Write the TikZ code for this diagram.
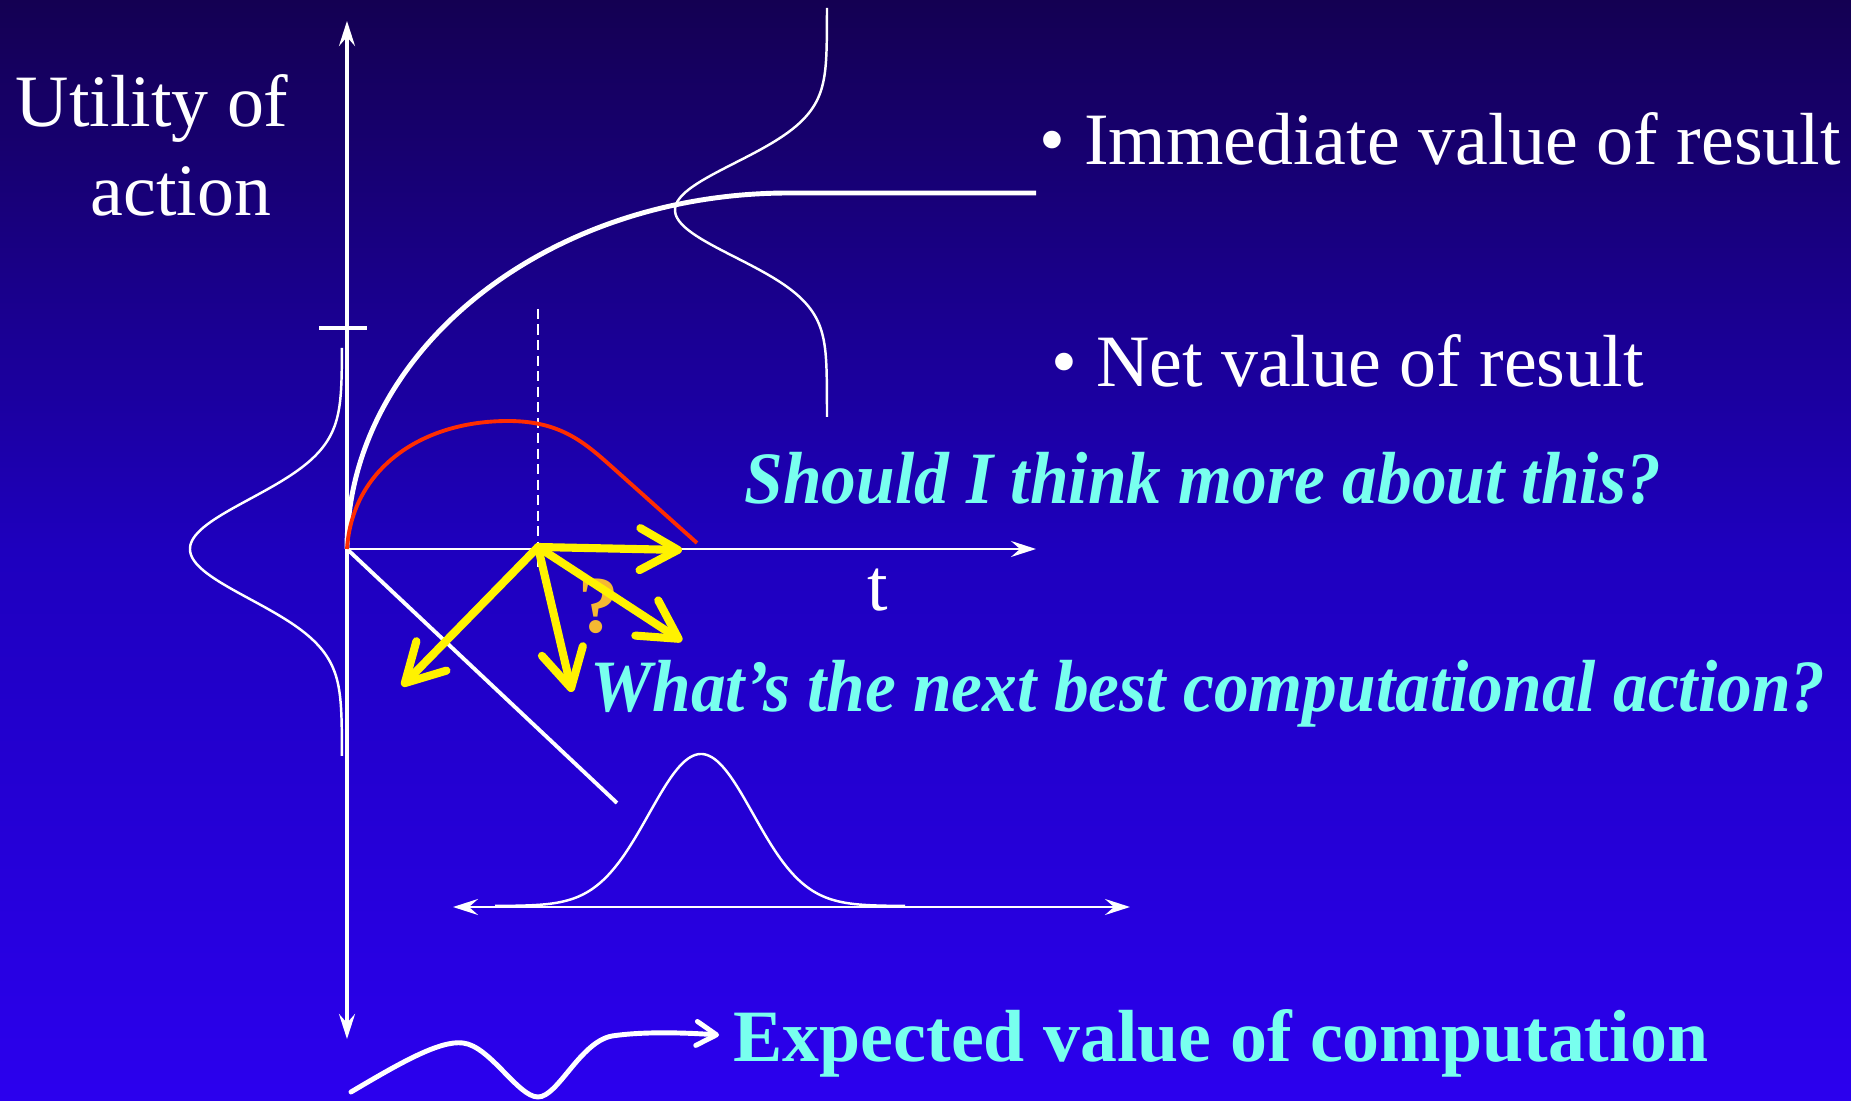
\documentclass[tikz,border=0pt]{standalone}
\usepackage{xcolor}
\usepackage{fontspec}
\setmainfont{Liberation Serif}
\newfontfamily\narrowserif[FakeStretch=0.94]{Liberation Serif}
\usepackage{tikz}
\usetikzlibrary{arrows.meta}
\definecolor{bgTop}{RGB}{20,0,82}
\definecolor{bgMid}{RGB}{30,0,190}
\definecolor{bgBottom}{RGB}{43,0,238}
\definecolor{myCyan}{RGB}{120,255,238}
\definecolor{myRed}{RGB}{255,45,0}
\definecolor{myOrange}{RGB}{245,185,50}

\begin{document}
\begin{tikzpicture}[x=0.01cm, y=-0.01cm]
\tikzset{
    axis line/.style={
        draw=white, line width=0.9pt,
        >={Stealth[length=0.25cm, width=0.16cm, inset=0.09cm]}
    },
    bell/.style={
        draw=white, line width=0.7pt, line join=round
    },
    choice arrow/.style={
        draw=yellow, line width=2.3pt, line cap=round, line join=round,
        -{Straight Barb[length=0.38cm, width=0.42cm, round]}
    },
    slide text/.style={
        text=white, inner sep=0pt, anchor=base west,
        font=\fontsize{21}{25}\selectfont
    },
    question text/.style={
        slide text, text=myCyan,
        font=\narrowserif\fontsize{21}{25}\selectfont\bfseries\itshape
    }
}
% Fundal
\shade[top color=bgTop, bottom color=bgBottom, middle color=bgMid]
    (0,0) rectangle (1851,1101);
\useasboundingbox (0,0) rectangle (1851,1101);

% Puncte
\coordinate (origin) at (347,549);
\coordinate (now)    at (538,547);
\coordinate (goRight) at (682,550);
\coordinate (goBack)  at (402,686);
\coordinate (goDown)  at (572,692);
\coordinate (goDiag)  at (682,641);

% Axe
\draw[axis line, <->] (347,1039) -- (347,21);
\draw[axis line] (319,328) -- (367,328);
\draw[axis line, ->, line width=0.7pt] (origin) -- (1036,549);
\draw[axis line, <->, line width=0.7pt] (453,907) -- (1130,907);

% Distributii
\draw[bell] plot[domain=348:756, samples=90, smooth]
    ({342-152*exp(-((\x-549)/50)*((\x-549)/50)/2)}, \x);
\draw[bell] plot[domain=8:417, samples=90, smooth]
    ({827-152*exp(-((\x-210)/47)*((\x-210)/47)/2)}, \x);
\draw[bell] plot[domain=495:905, samples=90, smooth]
    (\x, {906-152*exp(-((\x-701)/52)*((\x-701)/52)/2)});

% Curbe
\draw[white, line width=1.1pt] (origin) -- (617,803);
\draw[white, line width=0.6pt, dash pattern=on 0.1cm off 0.055cm] (538,309) -- (538,572);
\draw[white, line width=1.4pt] (origin) .. controls (347,352) and (545,193) .. (789,193) -- (1036,193);
\draw[myRed, line width=1.1pt] (origin) .. controls (352,470) and (420,421) .. (508,421)
    .. controls (560,421) and (584,442) .. (612,467) -- (697,543);

% Sageti galbene
\node[slide text, anchor=base, text=myOrange, font=\fontsize{23}{25}\selectfont\bfseries] (qmark) at (599,633) {?};
\draw[choice arrow] (now) -- (goRight);
\draw[choice arrow] (now) -- (goBack);
\draw[choice arrow] (now) -- (goDown);
\draw[choice arrow] (now) -- (goDiag);

% Sageata ondulata
\coordinate (waveStart) at (351,1092);
\coordinate (waveEnd)   at (719,1035);
\draw[white, line width=1.4pt, line cap=round, -{Straight Barb[length=0.2cm, width=0.24cm, round]}]
    (waveStart) .. controls (400,1063) and (440,1040) .. (463,1043)
    .. controls (490,1046) and (518,1097) .. (538,1097)
    .. controls (558,1097) and (580,1042) .. (612,1036)
    .. controls (645,1031) and (690,1033) .. (waveEnd);

% Texte
\node[slide text] (utility)   at (15,127)   {Utility of};
\node[slide text] (action)    at (90,216)   {action};
\node[slide text] (immediate) at (1039,165) {• Immediate value of result};
\node[slide text] (net)       at (1051,387) {• Net value of result};
\node[slide text, anchor=base] (tlabel) at (878,611) {t};
\node[question text] (think)  at (744,504)  {Should I think more about this?};
\node[question text] (next)   at (590,712)  {What’s the next best computational action?};
\node[slide text, text=myCyan, font=\fontsize{21}{25}\selectfont\bfseries] (evc) at (733,1062) {Expected value of computation};
\end{tikzpicture}
\end{document}
